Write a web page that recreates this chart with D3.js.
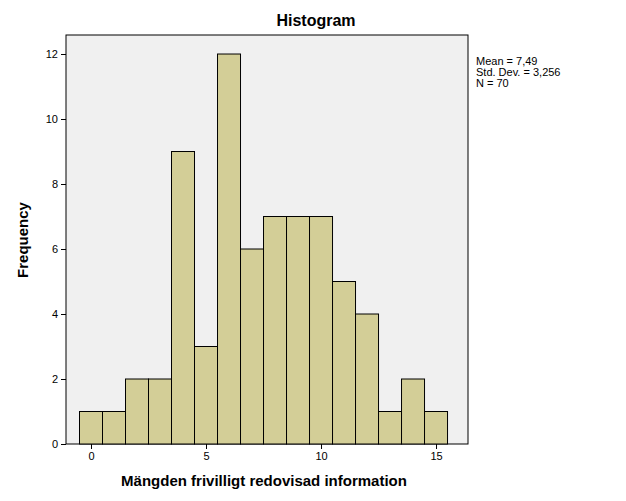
<!DOCTYPE html>
<html><head><meta charset="utf-8">
<script src="https://cdn.jsdelivr.net/npm/d3@7"></script>
<style>body{margin:0;background:#fff}text{font-family:"Liberation Sans",Arial,sans-serif}</style>
</head><body><svg></svg>
<script>
var bins = [0,1,2,3,4,5,6,7,8,9,10,11,12,13,14,15];
var counts = [1,1,2,2,9,3,12,6,7,7,7,5,4,1,2,1];
var xTicks = [0,5,10,15];
var yTicks = [0,2,4,6,8,10,12];
var stats = ["Mean = 7,49","Std. Dev. = 3,256","N = 70"];

var svg = d3.select("svg").attr("width",626).attr("height",501);
var plot = {left:66, right:468, top:35, bottom:444};

var x = d3.scaleLinear().domain([-1.087,16.39]).range([plot.left,plot.right]);
var y = d3.scaleLinear().domain([0,12.585]).range([plot.bottom,plot.top]);

svg.append("rect").attr("x",plot.left).attr("y",plot.top)
  .attr("width",plot.right-plot.left).attr("height",plot.bottom-plot.top)
  .attr("fill","#f0f0f0").attr("stroke","#000");

svg.selectAll("rect.bar").data(bins).enter().append("rect").attr("class","bar")
  .attr("x",d=>x(d-0.5)).attr("width",d=>x(d+0.5)-x(d-0.5))
  .attr("y",(d,i)=>y(counts[i])).attr("height",(d,i)=>y(0)-y(counts[i]))
  .attr("fill","#d3ce97").attr("stroke","#000").attr("stroke-width",1);

var xa = svg.append("g").attr("transform","translate(0,"+plot.bottom+")")
  .call(d3.axisBottom(x).tickValues(xTicks).tickSize(5).tickFormat(d3.format("d")));
var ya = svg.append("g").attr("transform","translate("+plot.left+",0)")
  .call(d3.axisLeft(y).tickValues(yTicks).tickSize(5).tickFormat(d3.format("d")));
[xa,ya].forEach(function(a){
  a.select(".domain").remove();
  a.selectAll("text").attr("font-size",11).attr("fill","#000");
});

svg.append("text").attr("x",316).attr("y",26).attr("text-anchor","middle")
  .attr("font-size",16).attr("font-weight","bold").text("Histogram");
svg.append("text").attr("transform","translate(28,240) rotate(-90)").attr("text-anchor","middle")
  .attr("font-size",15).attr("font-weight","bold").text("Frequency");
svg.append("text").attr("x",264).attr("y",486).attr("text-anchor","middle")
  .attr("font-size",15).attr("font-weight","bold").text("Mängden frivilligt redovisad information");

svg.selectAll("text.stat").data(stats).enter().append("text").attr("class","stat")
  .attr("x",476).attr("y",(d,i)=>65+i*11).attr("font-size",11).text(d=>d);
</script></body></html>
